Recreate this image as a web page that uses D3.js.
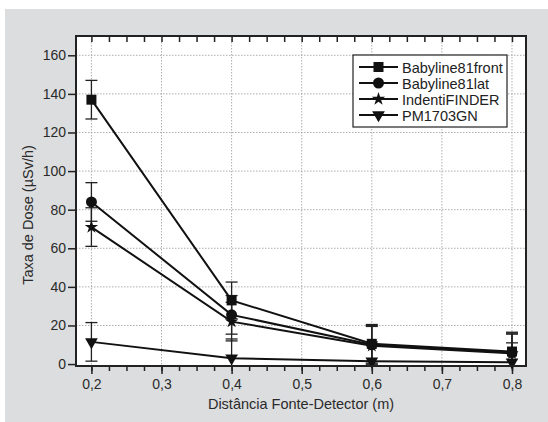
<!DOCTYPE html>
<html>
<head>
<meta charset="utf-8">
<script src="https://cdn.jsdelivr.net/npm/d3@7"></script>
<style>
  html, body { margin: 0; padding: 0; background: #fff; }
  text { font-family: "Liberation Sans", Arial, sans-serif; }
</style>
</head>
<body>
<div id="chart"></div>
<script>
// distances (m)
const distances = [0.2, 0.4, 0.6, 0.8];

const seriesNames = ["Babyline81front", "Babyline81lat", "IndentiFINDER", "PM1703GN"];
const symbolTypes = ["square", "circle", "star", "triangleDown"];

// dose rate (µSv/h)
const babylineFront = [137, 33, 10.5, 6.5];
const babylineLat = [84, 25.5, 10, 6];
const identiFinder = [71, 22, 9.5, 5.5];
const pm1703 = [11.5, 3, 1.5, 1];

// error bars (±)
const errFront = [10, 9.5, 10, 10];
const errLat = [10, 10, 10, 10];
const errIdenti = [10, 10, 10, 10];
const errPm = [10, 10, 10, 10];

const xTicks = [0.2, 0.3, 0.4, 0.5, 0.6, 0.7, 0.8];
const yTicks = [0, 20, 40, 60, 80, 100, 120, 140, 160];

const allValues = [babylineFront, babylineLat, identiFinder, pm1703];
const allErrors = [errFront, errLat, errIdenti, errPm];

const width = 548, height = 422;
const margin = { left: 76, top: 36, right: 22, bottom: 56 };

const svg = d3.select("#chart").append("svg")
    .attr("width", width)
    .attr("height", height);

// gray panel
svg.append("rect")
    .attr("x", 5).attr("y", 9)
    .attr("width", width - 5).attr("height", height - 9)
    .attr("fill", "#dcdddf");

const x = d3.scaleLinear()
    .domain([0.178, 0.82])
    .range([margin.left, width - margin.right]);

const y = d3.scaleLinear()
    .domain([-1, 170])
    .range([height - margin.bottom, margin.top]);

const plotW = width - margin.left - margin.right;
const plotH = height - margin.top - margin.bottom;

// plot background
svg.append("rect")
    .attr("x", margin.left).attr("y", margin.top)
    .attr("width", plotW).attr("height", plotH)
    .attr("fill", "#fff");

// grid
const grid = svg.append("g");
grid.selectAll(".gx")
    .data(xTicks)
    .enter().append("line")
    .attr("x1", d => x(d)).attr("x2", d => x(d))
    .attr("y1", margin.top).attr("y2", height - margin.bottom)
    .attr("stroke", "#999")
    .attr("stroke-width", 0.8)
    .attr("stroke-dasharray", "1.5,1.5");
grid.selectAll(".gy")
    .data(yTicks.filter(d => d > 0))
    .enter().append("line")
    .attr("x1", margin.left).attr("x2", width - margin.right)
    .attr("y1", d => y(d)).attr("y2", d => y(d))
    .attr("stroke", "#999")
    .attr("stroke-width", 0.8)
    .attr("stroke-dasharray", "1.5,1.5");

// minor x ticks every 0.025
const minorX = d3.range(0.2, 0.8001, 0.025);

// bottom axis (outward)
const bottomAxis = svg.append("g")
    .attr("transform", `translate(0,${height - margin.bottom})`)
    .call(d3.axisBottom(x).tickValues(minorX)
        .tickSize(5).tickFormat(""));
bottomAxis.select(".domain").remove();
bottomAxis.selectAll("line").attr("stroke", "#222").attr("stroke-width", 1.5);

const bottomMajor = svg.append("g")
    .attr("transform", `translate(0,${height - margin.bottom})`)
    .call(d3.axisBottom(x).tickValues(xTicks)
        .tickSize(8).tickPadding(5)
        .tickFormat(d => d3.format(".1f")(d).replace(".", ",")));
bottomMajor.select(".domain").remove();
bottomMajor.selectAll("line").attr("stroke", "#222").attr("stroke-width", 1.5);
bottomMajor.selectAll("text")
    .attr("font-size", 14).attr("fill", "#2a2a2a");

// top axis (inward)
const topAxis = svg.append("g")
    .attr("transform", `translate(0,${margin.top})`)
    .call(d3.axisBottom(x).tickValues(minorX)
        .tickSize(6).tickFormat(""));
topAxis.select(".domain").remove();
topAxis.selectAll("line").attr("stroke", "#222").attr("stroke-width", 1.5);

// left axis
const leftAxis = svg.append("g")
    .attr("transform", `translate(${margin.left},0)`)
    .call(d3.axisLeft(y).tickValues(yTicks)
        .tickSize(8).tickPadding(2));
leftAxis.select(".domain").remove();
leftAxis.selectAll("line").attr("stroke", "#222").attr("stroke-width", 1.5);
leftAxis.selectAll("text")
    .attr("font-size", 14).attr("fill", "#2a2a2a");

// error bars
const capW = 6;
const errG = svg.append("g");
allValues.forEach((vals, si) => {
    vals.forEach((v, i) => {
        const e = allErrors[si][i];
        const lo = Math.max(v - e, y.domain()[0]);
        const hi = v + e;
        const g = errG.append("g").attr("stroke", "#222").attr("stroke-width", 1.3);
        g.append("line")
            .attr("x1", x(distances[i])).attr("x2", x(distances[i]))
            .attr("y1", y(lo)).attr("y2", y(hi));
        g.append("line")
            .attr("x1", x(distances[i]) - capW).attr("x2", x(distances[i]) + capW)
            .attr("y1", y(hi)).attr("y2", y(hi));
        if (v - e > y.domain()[0]) {
            g.append("line")
                .attr("x1", x(distances[i]) - capW).attr("x2", x(distances[i]) + capW)
                .attr("y1", y(lo)).attr("y2", y(lo));
        }
    });
});

// symbols
const symbolGen = {
    square: d3.symbol(d3.symbolSquare, 100),
    circle: d3.symbol(d3.symbolCircle, 95),
    star: d3.symbol(d3.symbolStar, 55),
    triangleDown: d3.symbol(d3.symbolTriangle, 70)
};

function drawSymbol(g, type, cx, cy) {
    const rot = type === "triangleDown" ? 180 : 0;
    g.append("path")
        .attr("d", symbolGen[type]())
        .attr("transform", `translate(${cx},${cy}) rotate(${rot})`)
        .attr("fill", "#111");
}

// lines
const line = d3.line()
    .x((d, i) => x(distances[i]))
    .y(d => y(d));

const seriesG = svg.append("g");
allValues.forEach((vals, si) => {
    seriesG.append("path")
        .datum(vals)
        .attr("d", line)
        .attr("fill", "none")
        .attr("stroke", "#111")
        .attr("stroke-width", 2);
});
allValues.forEach((vals, si) => {
    vals.forEach((v, i) => drawSymbol(seriesG, symbolTypes[si], x(distances[i]), y(v)));
});

// frame
svg.append("rect")
    .attr("x", margin.left).attr("y", margin.top)
    .attr("width", plotW).attr("height", plotH)
    .attr("fill", "none")
    .attr("stroke", "#222")
    .attr("stroke-width", 2);

// legend
const legend = svg.append("g").attr("transform", "translate(353,55)");
legend.append("rect")
    .attr("width", 154).attr("height", 72)
    .attr("fill", "#fff")
    .attr("stroke", "#222")
    .attr("stroke-width", 1.2);
seriesNames.forEach((name, i) => {
    const ly = 12 + i * 16;
    legend.append("line")
        .attr("x1", 6).attr("x2", 45)
        .attr("y1", ly).attr("y2", ly)
        .attr("stroke", "#111").attr("stroke-width", 2);
    drawSymbol(legend, symbolTypes[i], 25.5, ly);
    legend.append("text")
        .attr("x", 49).attr("y", ly + 5.5)
        .attr("font-size", 14.5)
        .attr("fill", "#222")
        .text(name);
});

// axis titles
svg.append("text")
    .attr("x", (margin.left + width - margin.right) / 2)
    .attr("y", 409)
    .attr("text-anchor", "middle")
    .attr("font-size", 14.5)
    .attr("fill", "#2a2a2a")
    .text("Distância Fonte-Detector (m)");

svg.append("text")
    .attr("transform", "translate(33,215) rotate(-90)")
    .attr("text-anchor", "middle")
    .attr("font-size", 14.5)
    .attr("fill", "#2a2a2a")
    .text("Taxa de Dose (µSv/h)");
</script>
</body>
</html>
